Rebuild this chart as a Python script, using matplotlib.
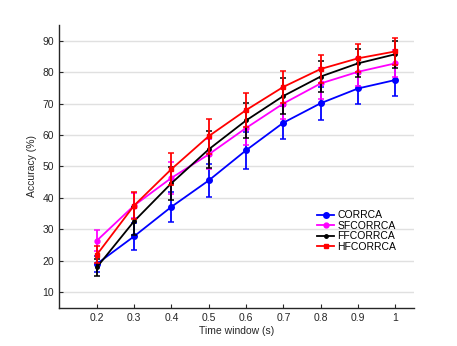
import matplotlib
matplotlib.use("Agg")
import matplotlib.pyplot as plt

plt.rcParams['font.family'] = ['Liberation Sans', 'DejaVu Sans']

time_window = [0.2, 0.3, 0.4, 0.5, 0.6, 0.7, 0.8, 0.9, 1.0]
corrca = [18.9, 27.7, 37.1, 45.5, 55.1, 63.9, 70.1, 74.8, 77.5]
corrca_err = [2.5, 4.4, 4.8, 5.2, 5.9, 5.3, 5.3, 5.0, 5.0]
sfcorrca = [26.3, 37.5, 46.3, 53.8, 62.2, 70.0, 76.4, 80.1, 82.8]
sfcorrca_err = [3.4, 4.0, 5.0, 4.8, 5.4, 5.0, 4.8, 4.5, 4.3]
ffcorrca = [17.8, 32.5, 44.6, 55.4, 64.6, 72.4, 78.6, 82.8, 85.7]
ffcorrca_err = [2.7, 4.5, 5.3, 5.8, 5.6, 5.6, 5.0, 4.5, 4.3]
hfcorrca = [21.8, 37.5, 49.1, 59.6, 67.9, 75.3, 81.0, 84.4, 86.6]
hfcorrca_err = [2.7, 4.2, 5.0, 5.6, 5.4, 5.0, 4.6, 4.5, 4.3]
labels = ["CORRCA", "SFCORRCA", "FFCORRCA", "HFCORRCA"]
yticks = [10, 20, 30, 40, 50, 60, 70, 80, 90]

fig = plt.figure(figsize=(4.57, 3.46), dpi=100)
ax = fig.add_axes([0.1298, 0.1107, 0.906 - 0.1298, 0.9277 - 0.1107])

series = [
    (corrca, corrca_err, (0, 0, 1), 'o', 4.0),
    (sfcorrca, sfcorrca_err, (1, 0, 1), 'o', 3.5),
    (ffcorrca, ffcorrca_err, (0, 0, 0), 'o', 2.5),
    (hfcorrca, hfcorrca_err, (1, 0, 0), 's', 2.8),
]
for (vals, errs, col, mk, ms), lab in zip(series, labels):
    ax.errorbar(time_window, vals, yerr=errs, color=col, fmt='none',
                elinewidth=1.3, capsize=2.5, capthick=1.1)
    ax.plot(time_window, vals, color=col, marker=mk, ms=ms, lw=1.3, label=lab)

ax.set_xlim(0.1, 1.05)
ax.set_ylim(5, 95)
ax.set_xticks(time_window)
ax.set_xticklabels(["0.2", "0.3", "0.4", "0.5", "0.6", "0.7", "0.8", "0.9", "1"])
ax.set_yticks(yticks)
ax.yaxis.grid(True, color=(0.88, 0.88, 0.88), lw=1.0)
ax.set_axisbelow(True)
for s in ['top', 'right']:
    ax.spines[s].set_visible(False)
for s in ['left', 'bottom']:
    ax.spines[s].set_color((0.15, 0.15, 0.15))
    ax.spines[s].set_linewidth(1.0)
ax.tick_params(direction='in', length=3, labelsize=7.5, colors=(0.15, 0.15, 0.15), pad=4)
ax.set_xlabel("Time window (s)", fontsize=7.5, color=(0.15, 0.15, 0.15), labelpad=2)
ax.set_ylabel("Accuracy (%)", fontsize=7.5, color=(0.15, 0.15, 0.15), labelpad=4)

leg = ax.legend(loc='upper left', bbox_to_anchor=(310 / 457, 1 - 203 / 346),
                bbox_transform=fig.transFigure, frameon=False, fontsize=7.5,
                handlelength=1.6, handletextpad=0.3, labelspacing=0.05, borderpad=0.2)

fig.savefig("out.png", dpi=100)
